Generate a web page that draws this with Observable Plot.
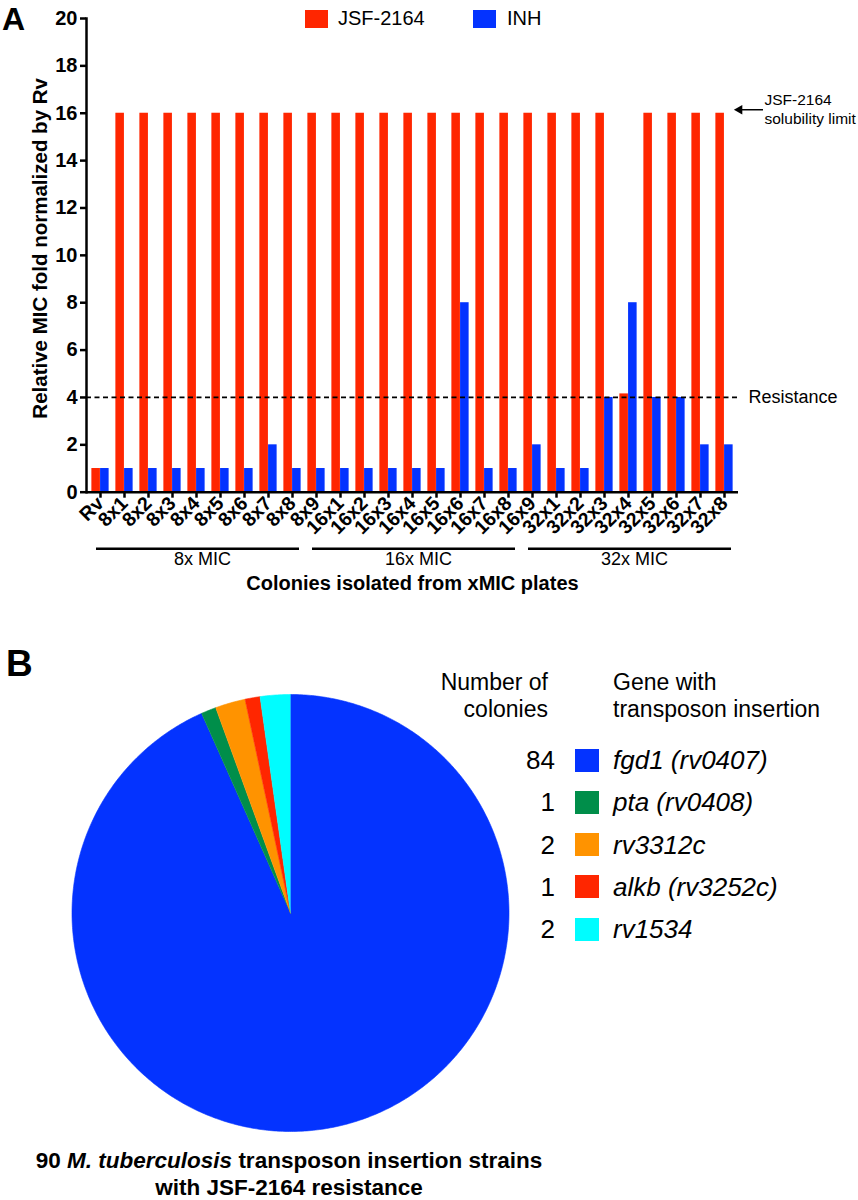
<!DOCTYPE html>
<html><head><meta charset="utf-8">
<script src="https://cdn.jsdelivr.net/npm/d3@7"></script>
<script src="https://cdn.jsdelivr.net/npm/@observablehq/plot@0.6"></script>
<style>
body{margin:0;background:#fff;font-family:"Liberation Sans",Arial,Helvetica,sans-serif;color:#000}
#wrap{position:relative;width:858px;height:1200px;overflow:hidden;background:#fff}
.abs{position:absolute;white-space:nowrap}
</style></head><body><div id="wrap">
<div id="chartA" class="abs" style="left:0;top:0"></div>
<div id="chartB" class="abs" style="left:0;top:600px"></div>
</div>
<script>
// ---------- Panel A data ----------
const colonies = ["Rv","8x1","8x2","8x3","8x4","8x5","8x6","8x7","8x8","8x9",
  "16x1","16x2","16x3","16x4","16x5","16x6","16x7","16x8","16x9",
  "32x1","32x2","32x3","32x4","32x5","32x6","32x7","32x8"];
const jsfFold = [1,16,16,16,16,16,16,16,16,16,16,16,16,16,16,16,16,16,16,16,16,16,4.15,16,16,16,16];
const inhFold = [1,1,1,1,1,1,1,2,1,1,1,1,1,1,1,8,1,1,2,1,1,4,8,4,4,2,2];
const yTicks = [0,2,4,6,8,10,12,14,16,18,20];
const seriesNames = ["JSF-2164","INH"];
const seriesColors = ["#FF2600","#0433FF"];
const groupLabels = ["8x MIC","16x MIC","32x MIC"];
const groupFirst = ["Rv","8x9","16x9"];
const groupLast = ["8x8","16x8","32x8"];
const resistanceLevel = 4;
const resistanceText = "Resistance";
const solubilityLimit = 16;
const solubilityText = "JSF-2164\nsolubility limit";
const yTitle = "Relative MIC fold normalized by Rv";
const xTitle = "Colonies isolated from xMIC plates";

// ---------- Panel B data ----------
const genes = ["fgd1 (rv0407)","pta (rv0408)","rv3312c","alkb (rv3252c)","rv1534"];
const colonyCounts = [84,1,2,1,2];
const geneColors = ["#0433FF","#008E4A","#FF9300","#FF2600","#00FDFF"];

const font = "Liberation Sans, Arial, Helvetica, sans-serif";

// ---------- Panel A ----------
const W = 858, mL = 86, mR = 120;
const step = (W - mL - mR) / colonies.length;
const barW = 8.7;
const rows = colonies.map((c, i) => ({colony: c, jsf: jsfFold[i], inh: inhFold[i]}));
const groups = groupLabels.map((g, i) => {
  const a = colonies.indexOf(groupFirst[i]), b = colonies.indexOf(groupLast[i]);
  return {label: g, first: groupFirst[i], last: groupLast[i], mid: colonies[Math.floor((a + b) / 2)]};
});

const chartA = Plot.plot({
  width: W, height: 600,
  marginLeft: mL, marginRight: mR, marginTop: 18, marginBottom: 108.3,
  style: {fontFamily: font, color: "#000", background: "transparent", overflow: "visible"},
  x: {domain: colonies, padding: 0, label: null},
  y: {domain: [0, 20], label: null},
  marks: [
    Plot.barY(rows, {x: "colony", y: "jsf", fill: seriesColors[0], insetLeft: step/2 - barW, insetRight: step/2}),
    Plot.barY(rows, {x: "colony", y: "inh", fill: seriesColors[1], insetLeft: step/2, insetRight: step/2 - barW}),
    Plot.ruleY([resistanceLevel], {stroke: "#000", strokeWidth: 1.8, strokeDasharray: "5,3.5"}),
    Plot.text([resistanceText], {text: d => d, y: () => resistanceLevel, frameAnchor: "right", textAnchor: "start", dx: 10, fontSize: 18}),
    // solubility arrow
    Plot.ruleY([solubilityLimit], {stroke: "#000", strokeWidth: 1.5, insetLeft: (W - mL - mR) - 24, dx: 25, dy: -3.5}),
    Plot.dot([solubilityLimit], {y: d => d, frameAnchor: "right", symbol: "triangle", rotate: -90, r: 3.6, fill: "#000", stroke: "none", dx: 1, dy: -3.5}),
    Plot.text([solubilityText], {text: d => d, y: () => solubilityLimit, frameAnchor: "right", textAnchor: "start", dx: 26, dy: -5, fontSize: 15.5, lineHeight: 1.25}),
    // axes
    Plot.axisY({ticks: yTicks, tickSize: 6, tickPadding: 3, tickFormat: d => d, fontSize: 20, fontWeight: "bold", strokeWidth: 2.5, label: null}),
    Plot.axisX({tickRotate: -45, tickSize: 6, tickPadding: 2, fontSize: 19.5, fontWeight: "bold", strokeWidth: 2.5, label: null}),
    Plot.ruleY([0], {stroke: "#000", strokeWidth: 2.5}),
    Plot.frame({anchor: "left", stroke: "#000", strokeWidth: 2.5}),
    Plot.text([yTitle], {text: d => d, frameAnchor: "left", textAnchor: "middle", rotate: -90, dx: -46, dy: -7, fontSize: 20.5, fontWeight: "bold"}),
    // group brackets
    Plot.ruleY(groups, {x1: "first", x2: "last", y: () => 0, dy: 56.5, stroke: "#000", strokeWidth: 2.5, insetLeft: 8, insetRight: 5}),
    Plot.text(groups, {x: "mid", text: "label", frameAnchor: "bottom", dx: 6, dy: 73, fontSize: 18}),
    Plot.text([xTitle], {text: d => d, frameAnchor: "bottom", dy: 97.5, fontSize: 20, fontWeight: "bold"})
  ]
});
document.getElementById("chartA").appendChild(chartA);

// ---------- Panel B ----------
const arcs = d3.pie().sort(null).value(d => d)(colonyCounts);
const piePts = [];
arcs.forEach((a, i) => {
  piePts.push({gene: genes[i], px: 0, py: 0});
  const n = Math.max(2, Math.ceil((a.endAngle - a.startAngle) / 0.01));
  for (let k = 0; k <= n; k++) {
    const t = a.startAngle + (a.endAngle - a.startAngle) * k / n;
    piePts.push({gene: genes[i], px: Math.sin(t), py: Math.cos(t)});
  }
});
const chartB = Plot.plot({
  width: W, height: 600,
  marginLeft: 71.5, marginRight: 349.5, marginTop: 94, marginBottom: 69,
  style: {fontFamily: font, background: "transparent"},
  x: {domain: [-1, 1], axis: null},
  y: {domain: [-1, 1], axis: null},
  color: {domain: genes, range: geneColors},
  marks: [
    Plot.line(piePts, {x: "px", y: "py", z: "gene", fill: "gene", stroke: "gene", strokeWidth: 0.6, curve: "linear"})
  ]
});
document.getElementById("chartB").appendChild(chartB);

// ---------- HTML labels / legends ----------
const wrap = document.getElementById("wrap");
function add(html, css) {
  const d = document.createElement("div");
  d.className = "abs";
  d.innerHTML = html;
  Object.assign(d.style, css);
  wrap.appendChild(d);
  return d;
}
add("A", {left: "2px", top: "3px", fontSize: "32px", fontWeight: "bold", lineHeight: "1"});
add("B", {left: "6px", top: "645px", fontSize: "37px", fontWeight: "bold", lineHeight: "1"});

// legend A
const legA = [{x: 305, tx: 338}, {x: 473, tx: 507}];
seriesNames.forEach((s, i) => {
  add("", {left: legA[i].x + "px", top: "9.5px", width: "23px", height: "18px", background: seriesColors[i]});
  add(s, {left: legA[i].tx + "px", top: "6px", fontSize: "20px", lineHeight: "24px"});
});

// legend B
add("Number of<br>colonies", {left: "348px", width: "200px", textAlign: "right", top: "668.5px", fontSize: "23px", lineHeight: "27px"});
add("Gene with<br>transposon insertion", {left: "613px", top: "668.5px", fontSize: "23px", lineHeight: "27px"});
genes.forEach((g, i) => {
  const cy = 760 + i * 42.3;
  add(String(colonyCounts[i]), {left: "455px", width: "100px", textAlign: "right", top: (cy - 15) + "px", fontSize: "26px", lineHeight: "30px"});
  add("", {left: "575px", top: (cy - 11.5) + "px", width: "24px", height: "23px", background: geneColors[i]});
  add(g, {left: "613px", top: (cy - 15) + "px", fontSize: "26px", lineHeight: "30px", fontStyle: "italic"});
});

// caption
const total = d3.sum(colonyCounts);
add(total + " <i>M. tuberculosis</i> transposon insertion strains<br>with JSF-2164 resistance",
  {left: "0px", width: "578px", textAlign: "center", top: "1146.5px", fontSize: "22.5px", lineHeight: "27px", fontWeight: "bold"});
</script>
</body></html>
